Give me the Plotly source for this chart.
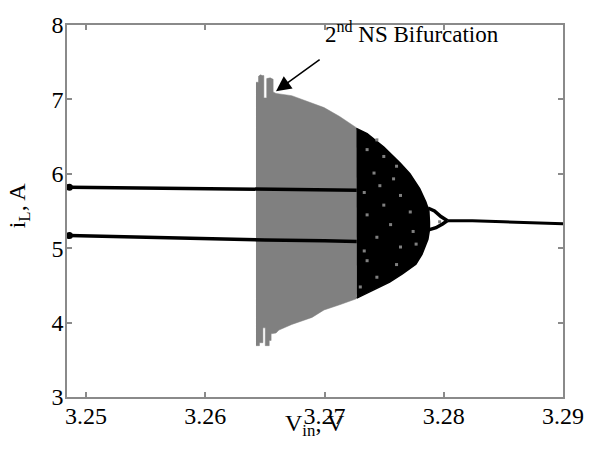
import plotly.graph_objects as go

# --- Quasi-periodic band (grey): upper and lower envelopes, left to right ---
qp_upper_x = [3.26425, 3.26446, 3.26446, 3.26462, 3.26478, 3.26491, 3.26491, 3.26515,
              3.26515, 3.26544, 3.26569, 3.26569, 3.26593, 3.26725, 3.26996, 3.27127, 3.27267]
qp_upper_y = [7.23, 7.23, 7.31, 7.33, 7.32, 7.32, 7.02, 7.02,
              7.28, 7.29, 7.27, 7.10, 7.08, 7.05, 6.89, 6.77, 6.62]
qp_lower_x = [3.26425, 3.26454, 3.26454, 3.26483, 3.26483, 3.26503, 3.26503, 3.26536,
              3.26536, 3.26552, 3.26552, 3.26593, 3.26618, 3.26725, 3.26895, 3.26996, 3.27127, 3.27267]
qp_lower_y = [3.69, 3.69, 3.73, 3.73, 3.93, 3.93, 3.69, 3.69,
              3.76, 3.76, 3.85, 3.86, 3.90, 3.975, 4.07, 4.17, 4.24, 4.32]

# --- Chaotic band (black): top and bottom envelopes, left to right ---
ch_top_x = [3.27267, 3.27357, 3.27497, 3.27634, 3.27716, 3.27798, 3.27850, 3.27875, 3.27880]
ch_top_y = [6.61, 6.54, 6.36, 6.145, 6.00, 5.80, 5.62, 5.50, 5.35]
ch_bot_x = [3.27270, 3.27407, 3.27546, 3.27653, 3.27766, 3.27817, 3.27848, 3.27867, 3.27880]
ch_bot_y = [4.33, 4.44, 4.545, 4.655, 4.785, 4.915, 5.045, 5.12, 5.25]

# grey holes inside the chaotic band
hole_x = [3.27357, 3.27497, 3.27415, 3.27579, 3.27333, 3.27637, 3.27497, 3.27719, 3.27357,
          3.27554, 3.27743, 3.27439, 3.27637, 3.27768, 3.27333, 3.27357, 3.27604, 3.27439,
          3.27300, 3.27439, 3.27604, 3.27464, 3.27965]
hole_y = [6.325, 6.233, 6.010, 5.932, 5.749, 5.709, 5.579, 5.487, 5.448,
          5.317, 5.225, 5.147, 5.016, 5.055, 4.963, 4.832, 4.780, 4.610,
          4.479, 6.456, 6.102, 5.840, 5.355]

# --- Period-2 orbit branches before the band ---
p2_x = [3.2486, 3.2550, 3.2600, 3.2650, 3.2700, 3.2727]
p2_upper_y = [5.82, 5.81, 5.80, 5.79, 5.785, 5.78]
p2_lower_y = [5.17, 5.145, 5.125, 5.11, 5.10, 5.09]

# --- Branches merging after the band, then the period-1 orbit ---
merge_upper_x = [3.27867, 3.27922, 3.27976, 3.28031]
merge_upper_y = [5.54, 5.50, 5.425, 5.37]
merge_lower_x = [3.27880, 3.27935, 3.27990, 3.28031]
merge_lower_y = [5.25, 5.275, 5.325, 5.37]
p1_x = [3.28031, 3.2824, 3.2850, 3.2900]
p1_y = [5.37, 5.37, 5.355, 5.33]

x_ticks = [3.25, 3.26, 3.27, 3.28, 3.29]
y_ticks = [3, 4, 5, 6, 7, 8]

SERIF = "Liberation Serif"
GREY = "#808080"
FRAME = "#8a8a8a"

fig = go.Figure()

fig.add_trace(go.Scatter(
    x=qp_upper_x + qp_lower_x[::-1], y=qp_upper_y + qp_lower_y[::-1],
    fill="toself", fillcolor=GREY, mode="lines", line=dict(width=0.5, color=GREY),
    hoverinfo="skip"))

fig.add_trace(go.Scatter(
    x=ch_top_x + ch_bot_x[::-1], y=ch_top_y + ch_bot_y[::-1],
    fill="toself", fillcolor="black", mode="lines", line=dict(width=1.5, color="black"),
    hoverinfo="skip"))

fig.add_trace(go.Scatter(
    x=hole_x, y=hole_y, mode="markers",
    marker=dict(size=3, color=GREY, symbol="square"), hoverinfo="skip"))

for yy in (p2_upper_y, p2_lower_y):
    fig.add_trace(go.Scatter(x=p2_x, y=yy, mode="lines",
                             line=dict(color="black", width=3.5), hoverinfo="skip"))
    fig.add_trace(go.Scatter(x=p2_x[:1], y=yy[:1], mode="markers",
                             marker=dict(color="black", size=7), hoverinfo="skip"))

for xx, yy in ((merge_upper_x, merge_upper_y), (merge_lower_x, merge_lower_y)):
    fig.add_trace(go.Scatter(x=xx, y=yy, mode="lines",
                             line=dict(color="black", width=3.5), hoverinfo="skip"))
fig.add_trace(go.Scatter(x=p1_x, y=p1_y, mode="lines",
                         line=dict(color="black", width=3), hoverinfo="skip"))

tick_font = dict(family=SERIF, size=24, color="black")

fig.update_layout(
    width=596, height=449,
    margin=dict(l=67, r=23, t=15, b=52),
    paper_bgcolor="white", plot_bgcolor="white",
    showlegend=False,
    xaxis=dict(range=[3.2484, 3.29], tickvals=x_ticks,
               showline=True, linecolor=FRAME, linewidth=1.5, mirror="ticks",
               ticks="inside", ticklen=5, tickcolor=FRAME, tickwidth=1.5,
               ticklabelstandoff=-4,
               showgrid=False, zeroline=False, tickfont=tick_font),
    yaxis=dict(range=[3, 8], tickvals=y_ticks,
               showline=True, linecolor=FRAME, linewidth=1.5, mirror="ticks",
               ticks="inside", ticklen=5, tickcolor=FRAME, tickwidth=1.5,
               ticklabelstandoff=-3,
               showgrid=False, zeroline=False, tickfont=tick_font),
    annotations=[
        # arrow pointing at the onset of the band
        dict(x=3.26593, y=7.11, ax=3.26963, ay=7.54, xref="x", yref="y",
             axref="x", ayref="y", text="", showarrow=True, borderpad=0,
             font=dict(size=1),
             arrowhead=2, arrowsize=2.0, arrowwidth=1.5, arrowcolor="black"),
        dict(x=3.26985, y=7.90, xref="x", yref="y", xanchor="left", yanchor="middle",
             text="2<sup>nd</sup> NS Bifurcation", showarrow=False,
             font=dict(family=SERIF, size=23, color="black")),
        # axis titles
        dict(x=0.5, y=-0.075, xref="paper", yref="paper", xanchor="center", yanchor="middle",
             text="V<sub>in</sub>, V", showarrow=False,
             font=dict(family=SERIF, size=24, color="black")),
        dict(x=-0.095, y=0.515, xref="paper", yref="paper", xanchor="center", yanchor="middle",
             text="i<sub>L</sub>, A", textangle=-90, showarrow=False,
             font=dict(family=SERIF, size=24, color="black")),
    ],
)

fig.write_html("out.html")
